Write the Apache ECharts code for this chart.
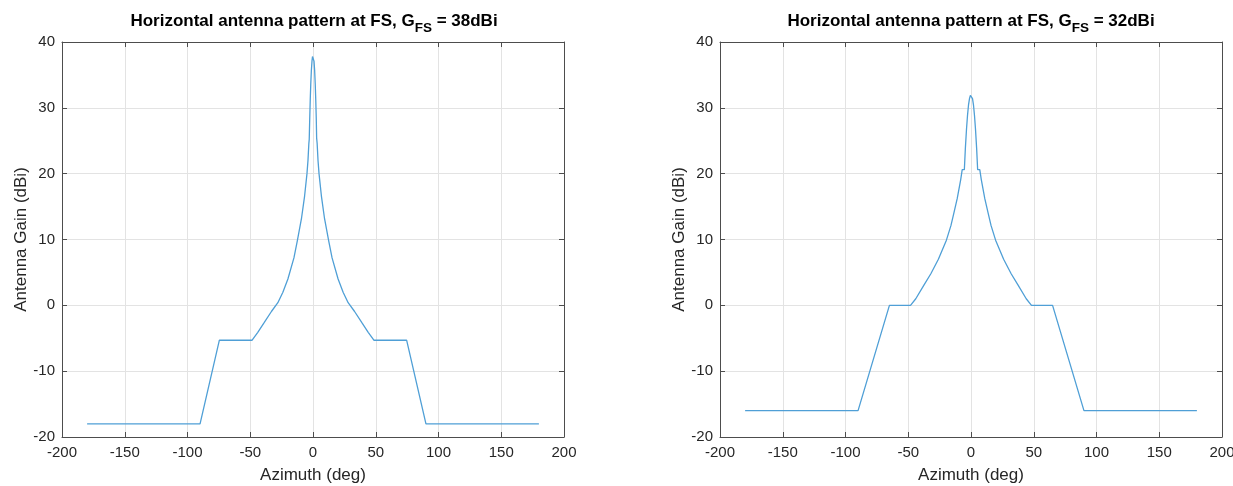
<!DOCTYPE html>
<html>
<head>
<meta charset="utf-8">
<script src="https://cdn.jsdelivr.net/npm/echarts@6/dist/echarts.min.js"></script>
<style>
  html, body { margin: 0; padding: 0; background: #fff; }
  #chart { width: 1233px; height: 486px; }
</style>
</head>
<body>
<div id="chart"></div>
<script>
// G_FS = 38dBi
const leftAzimuth = [-180, -90, -74.6, -48.5, -44, -38.8, -33, -28, -24, -20, -15.2, -12.5, -9.1, -6.7, -4.8, -4.0, -3.3, -3.0, -2.9, -2.6, -2.2, -1.8, -1.3, -0.8, -0.4, 0,
  0.4, 0.8, 1.3, 1.8, 2.2, 2.6, 2.9, 3.0, 3.3, 4.0, 4.8, 6.7, 9.1, 12.5, 15.2, 20, 24, 28, 33, 38.8, 44, 48.5, 74.6, 90, 180];
const leftGain = [-18, -18, -5.3, -5.3, -4.1, -2.6, -0.9, 0.4, 2.0, 4.0, 7.2, 9.8, 13.3, 16.6, 20.0, 22.0, 24.6, 25.2, 25.4, 28.4, 31.2, 33.5, 35.7, 37.1, 37.8, 38,
  37.8, 37.1, 35.7, 33.5, 31.2, 28.4, 25.4, 25.2, 24.6, 22.0, 20.0, 16.6, 13.3, 9.8, 7.2, 4.0, 2.0, 0.4, -0.9, -2.6, -4.1, -5.3, -5.3, -18, -18];

// G_FS = 32dBi
const rightAzimuth = [-180, -90, -65, -48.2, -44, -37.4, -32, -26, -19.6, -16, -13.8, -11, -8.2, -7.0, -5.3, -4.5, -3.6, -2.8, -2.0, -1.2, -0.5, 0,
  0.5, 1.2, 2.0, 2.8, 3.6, 4.5, 5.3, 7.0, 8.2, 11, 13.8, 16, 19.6, 26, 32, 37.4, 44, 48.2, 65, 90, 180];
const rightGain = [-16, -16, 0, 0, 1.0, 3.1, 4.8, 7.0, 9.9, 12.1, 13.9, 16.2, 19.1, 20.6, 20.6, 23.8, 26.7, 28.8, 30.4, 31.4, 31.9, 32,
  31.9, 31.4, 30.4, 28.8, 26.7, 23.8, 20.6, 20.6, 19.1, 16.2, 13.9, 12.1, 9.9, 7.0, 4.8, 3.1, 1.0, 0, 0, -16, -16];

const gainLabels = ['38', '32'];

const axisColor = '#4d4d4d';
const gridColor = '#e3e3e3';
const lineColor = '#4f9fd6';
const font = 'Liberation Sans, Arial, Helvetica, sans-serif';

function pairs(xs, ys) {
  return xs.map((x, i) => [x, ys[i]]);
}

function xAxes(gridIndex) {
  const base = {
    gridIndex,
    type: 'value',
    min: -200,
    max: 200,
    interval: 50,
    axisLine: { show: true, onZero: false, lineStyle: { color: axisColor, width: 1 } },
    axisTick: { show: true, inside: true, length: 5, lineStyle: { color: axisColor } },
  };
  return [
    Object.assign({}, base, {
      position: 'bottom',
      name: 'Azimuth (deg)',
      nameLocation: 'middle',
      nameGap: 30,
      nameTextStyle: { fontFamily: font, fontSize: 17, color: '#262626' },
      axisLabel: { fontFamily: font, fontSize: 15, color: '#262626', margin: 8 },
      splitLine: { show: true, lineStyle: { color: gridColor, width: 1 } },
    }),
    Object.assign({}, base, {
      position: 'top',
      axisLabel: { show: false },
      splitLine: { show: false },
    }),
  ];
}

function yAxes(gridIndex) {
  const base = {
    gridIndex,
    type: 'value',
    min: -20,
    max: 40,
    interval: 10,
    axisLine: { show: true, onZero: false, lineStyle: { color: axisColor, width: 1 } },
    axisTick: { show: true, inside: true, length: 5, lineStyle: { color: axisColor } },
  };
  return [
    Object.assign({}, base, {
      position: 'left',
      name: 'Antenna Gain (dBi)',
      nameLocation: 'middle',
      nameGap: 31,
      nameTextStyle: { fontFamily: font, fontSize: 17, color: '#262626' },
      axisLabel: { fontFamily: font, fontSize: 15, color: '#262626', margin: 7 },
      splitLine: { show: true, lineStyle: { color: gridColor, width: 1 } },
    }),
    Object.assign({}, base, {
      position: 'right',
      axisLabel: { show: false },
      splitLine: { show: false },
    }),
  ];
}

function title(gain, centerX) {
  return {
    text: '{a|Horizontal antenna pattern at FS, G}{sub|FS}{a| = ' + gain + 'dBi}',
    left: centerX,
    top: 8,
    textAlign: 'center',
    textStyle: {
      rich: {
        a: { fontFamily: font, fontSize: 17, fontWeight: 'bold', color: '#000', lineHeight: 21, verticalAlign: 'top' },
        sub: { fontFamily: font, fontSize: 13.5, fontWeight: 'bold', color: '#000', lineHeight: 21, verticalAlign: 'top', padding: [8, 0, 0, 0] },
      },
    },
  };
}

const chart = echarts.init(document.getElementById('chart'));
chart.setOption({
  animation: false,
  backgroundColor: '#fff',
  title: [title(gainLabels[0], 309), title(gainLabels[1], 966)],
  grid: [
    { left: 62, top: 42, width: 502, height: 395, containLabel: false, outerBoundsMode: 'none' },
    { left: 720, top: 42, width: 502, height: 395, containLabel: false, outerBoundsMode: 'none' },
  ],
  xAxis: xAxes(0).concat(xAxes(1)),
  yAxis: yAxes(0).concat(yAxes(1)),
  series: [
    {
      type: 'line',
      xAxisIndex: 0,
      yAxisIndex: 0,
      data: pairs(leftAzimuth, leftGain),
      showSymbol: false,
      lineStyle: { color: lineColor, width: 1.3 },
    },
    {
      type: 'line',
      xAxisIndex: 2,
      yAxisIndex: 2,
      data: pairs(rightAzimuth, rightGain),
      showSymbol: false,
      lineStyle: { color: lineColor, width: 1.3 },
    },
  ],
});
</script>
</body>
</html>
